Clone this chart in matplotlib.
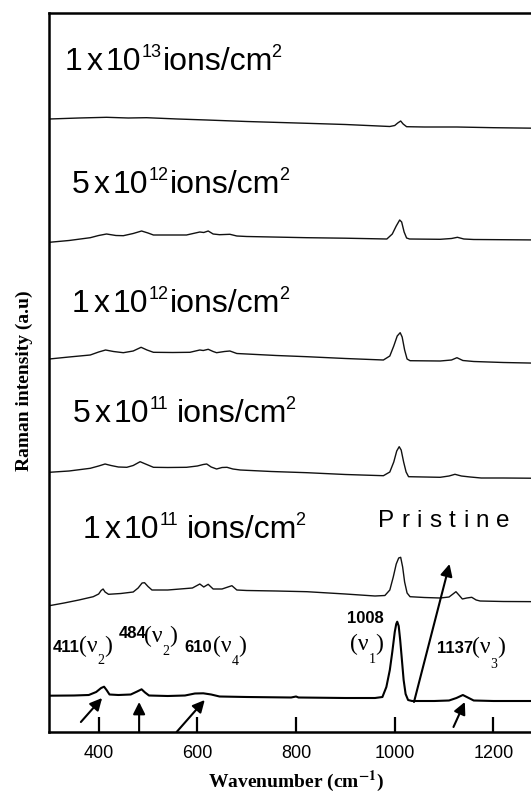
import matplotlib
matplotlib.use("Agg")
import matplotlib.pyplot as plt

# ---------------- data (wavenumber cm^-1, intensity a.u.) ----------------
w_1e13 = [300, 360, 416, 460, 497, 560, 619, 700, 822, 900, 990, 1000, 1006, 1012, 1017, 1024, 1060, 1126, 1200, 1300]
i_1e13 = [613, 614, 614.7, 614, 614.3, 613, 612, 610.5, 608.7, 607.5, 605.5, 606.5, 609, 611, 608, 605.3, 605, 605, 604.3, 603.7]

w_5e12 = [300, 340, 383, 400, 416, 435, 450, 470, 487, 500, 511, 550, 578, 605, 613, 622, 632, 645, 666, 680, 700, 822, 900,
          984, 995, 1003, 1010, 1014, 1019, 1024, 1030, 1092, 1115, 1127, 1140, 1160, 1300]
i_5e12 = [489.7, 491.5, 494.3, 496.5, 498, 496.5, 496.3, 498.5, 501, 499, 497, 497, 497, 500, 499.5, 501, 498, 497.3, 497.7, 496, 495.5, 494.3, 493.8,
          493, 498, 506, 512, 510, 500, 494, 493, 492.7, 493.5, 494.7, 493, 492.5, 492]

w_1e12 = [300, 340, 383, 400, 414, 430, 450, 470, 486, 498, 511, 550, 585, 605, 612, 622, 632, 639, 655, 666, 680, 700, 760, 822, 900,
          977, 990, 998, 1005, 1011, 1015, 1020, 1025, 1031, 1092, 1115, 1126, 1138, 1160, 1220, 1300]
i_1e12 = [373, 375, 377, 380, 382, 380.5, 379.3, 381, 384.7, 382, 379.7, 379.5, 379.7, 382, 381.5, 382.7, 380.5, 379.3, 380.5, 381, 378.5, 378, 376.5, 375.3, 373.5,
          372, 376, 386, 396, 399.3, 395, 382, 373, 371.3, 371, 372, 374.3, 371.5, 370.5, 369.5, 368.7]

w_5e11 = [300, 340, 383, 400, 413, 425, 440, 457, 470, 484, 495, 511, 540, 578, 600, 612, 619, 628, 639, 650, 660, 672, 687, 750, 822, 900,
          977, 990, 998, 1004, 1009, 1013, 1018, 1023, 1028, 1060, 1092, 1110, 1122, 1135, 1153, 1175, 1220, 1300]
i_5e11 = [259.7, 261, 263.7, 266, 268, 266.5, 265, 264.7, 266.5, 270.3, 268, 264.7, 264.5, 264.7, 266, 267.5, 268, 265, 263, 264.5, 264.7, 263, 262, 260.5, 259.3, 257.5,
          256.3, 260, 270, 281, 285.3, 282, 270, 260, 255.3, 255, 254.7, 256, 257.7, 256, 255, 254, 254, 253.7]

w_1e11 = [300, 330, 360, 389, 400, 405, 409, 413, 420, 445, 470, 480, 488, 493, 500, 508, 540, 565, 590, 605, 613, 622, 632, 650, 662, 670, 680,
          700, 760, 822, 900, 960, 980, 990, 997, 1003, 1008, 1012, 1016, 1020, 1025, 1031, 1060, 1092, 1110, 1118, 1124, 1130, 1137, 1146,
          1156, 1165, 1173, 1220, 1300]
i_1e11 = [126.3, 129, 132, 135.3, 138, 141.5, 143, 140, 137.7, 138.5, 140, 144, 149, 149.3, 145.5, 142, 142, 143, 144, 148, 145, 147.7, 143, 143, 145, 146.3, 142,
          141.5, 141, 140.3, 138, 136, 136.5, 142, 155, 168, 174, 174.7, 165, 150, 139, 135.3, 134.5, 134, 135, 138, 140.3, 137, 133, 134,
          134.7, 132, 131, 130.5, 130.3]

w_pristine = [300, 350, 380, 395, 405, 411, 416, 422, 440, 465, 478, 487, 494, 502, 540, 575, 595, 612, 628, 645, 700, 790, 800, 805, 900,
              960, 975, 983, 990, 995, 1000, 1003, 1005, 1008, 1011, 1014, 1018, 1022, 1027, 1035, 1080, 1110, 1125, 1138, 1148, 1160, 1200, 1300]
i_pristine = [36.3, 36.5, 37, 40, 44, 45.3, 42, 37.5, 37, 37.5, 40.5, 42.7, 39.5, 36.5, 36, 36.5, 38.5, 38.7, 37.5, 35.5, 35, 34.5, 35.5, 34.5, 34,
              34, 35, 45, 62, 80, 100, 108, 110.3, 106, 92, 75, 52, 38, 32, 31, 31, 31.5, 34, 37, 34.5, 31.5, 31, 31]

xticks = [400, 600, 800, 1000, 1200]

# dose labels: (mantissa, exponent, space before "ions")
dose_mant = ["1", "5", "1", "5", "1"]
dose_exp = ["13", "12", "12", "11", "11"]
dose_gap = [2, 2, 2, 9, 9]

SANS = 'Liberation Sans'
SERIF = 'Liberation Serif'

# ---------------- figure ----------------
W, H = 531, 793
fig = plt.figure(figsize=(W / 100, H / 100), dpi=100)
ax = fig.add_axes([49.3 / W, 61 / H, 493.5 / W, 719 / H])
ax.set_xlim(300, 1300)
ax.set_ylim(0, 719)

for xs, ys in [(w_1e13, i_1e13), (w_5e12, i_5e12), (w_1e12, i_1e12), (w_5e11, i_5e11), (w_1e11, i_1e11)]:
    ax.plot(xs, ys, color='#111111', lw=1.0, solid_joinstyle='round')
ax.plot(w_pristine, i_pristine, color='black', lw=1.5, solid_joinstyle='round')

ax.set_xticks(xticks)
ax.set_xticklabels([str(t) for t in xticks], fontfamily=SANS, fontsize=13)
ax.set_yticks([])
ax.tick_params(axis='x', direction='in', length=11, width=1.6, pad=9, colors='black')
for s in ['left', 'top', 'bottom', 'right']:
    ax.spines[s].set_linewidth(1.8)

renderer = fig.canvas.get_renderer()


def chain(x0, y0, pieces):
    """pieces: (text, size, family, weight, raise_px, gap_after_px); x0,y0 pixel from top-left (baseline)."""
    x = x0
    t = None
    for s, size, fam, weight, dy, gap in pieces:
        t = fig.text(x / W, 1 - (y0 - dy) / H, s, fontsize=size, fontfamily=fam, fontweight=weight,
                     ha='left', va='baseline')
        bb = t.get_window_extent(renderer=renderer)
        x = bb.x1 + gap
    return x


# axis labels
fig.text(296 / W, 1 - 787 / H, r"Wavenumber (cm$^{\mathbf{-1}}$)", ha='center', va='baseline',
         fontfamily=SERIF, fontweight='bold', fontsize=14, math_fontfamily='stix')
fig.text(24 / W, 1 - 381 / H, "Raman intensity (a.u)", ha='center', va='center', rotation=90,
         fontfamily=SERIF, fontweight='bold', fontsize=14)

# dose labels
dose_pos = [(65, 70), (72, 193), (72, 312), (73, 422), (83, 538)]
for (x, y), m, e, g in zip(dose_pos, dose_mant, dose_exp, dose_gap):
    chain(x, y, [(m, 23, SANS, 'normal', 0, 4),
                 ("x", 23, SANS, 'normal', 0, 3),
                 ("10", 23, SANS, 'normal', 0, 0),
                 (e, 13, SANS, 'normal', 13, g),
                 ("ions/cm", 23, SANS, 'normal', 0, -2),
                 ("2", 13, SANS, 'normal', 13, 0)])

# Pristine (letter-spaced)
chain(378, 527, [(c, 17.5, SANS, 'normal', 0, 7.3) for c in "Pristine"])


# peak annotations
def nu_label(x, yb, sub, ysub):
    xe = chain(x, yb, [("(ν", 17, SERIF, 'normal', 0, 0),
                       (sub, 10, SERIF, 'normal', yb - ysub, 0)])
    fig.text(xe / W, 1 - yb / H, ")", fontsize=17, fontfamily=SERIF, ha='left', va='baseline')


def bold(x, y, s):
    fig.text(x / W, 1 - y / H, s, fontfamily=SANS, fontweight='bold', fontsize=12, ha='left', va='baseline')


bold(53, 652, "411")
nu_label(79, 652, "2", 664)
bold(119, 638, "484")
nu_label(144, 642, "2", 655)
bold(184, 652, "610")
nu_label(213, 652, "4", 665)
bold(347, 623, "1008")
nu_label(350, 650, "1", 663)
bold(437, 653, "1137")
nu_label(472, 653, "3", 668)

# arrows (tail -> head, in data coordinates)
arrows = [((364, 10), (407, 34)), ((482, 0), (482, 30)), ((558, 0), (615, 32)),
          ((1119, 5), (1142, 30)), ((1039, 30), (1111, 168))]
for tail, head in arrows:
    ax.annotate("", xy=head, xytext=tail,
                arrowprops=dict(arrowstyle='-|>', color='black', lw=1.5, shrinkA=0, shrinkB=0,
                                mutation_scale=18))

fig.savefig("out.png", dpi=100)
